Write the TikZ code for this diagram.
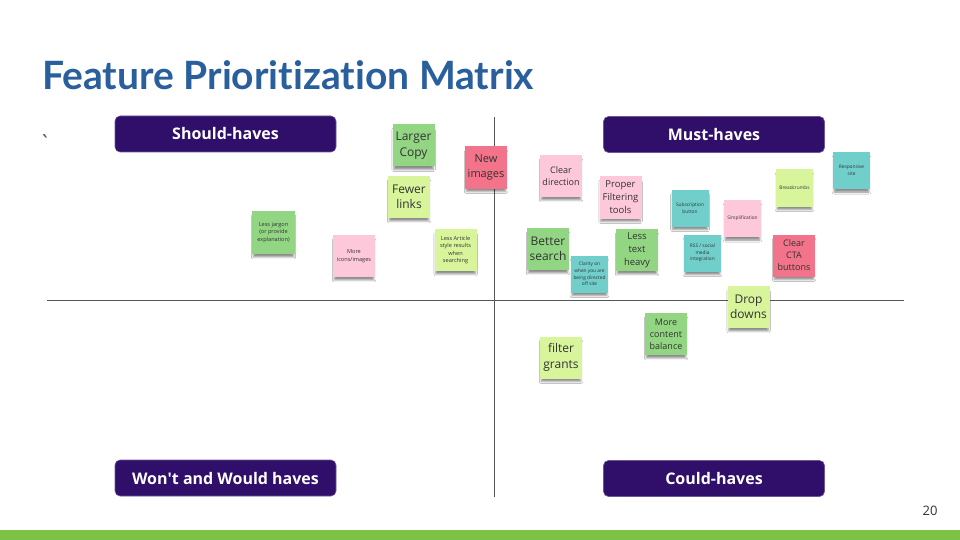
\documentclass[tikz,border=0pt]{standalone}
\usepackage{fontspec}
\setmainfont{Open Sans}
\newfontfamily\titlefont[Ligatures=NoCommon]{Lato}
\usetikzlibrary{shadows.blur}

\definecolor{titleblue}{HTML}{2A5F9D}
\definecolor{hdrpurple}{HTML}{2F0F69}
\definecolor{axisgray}{HTML}{555555}
\definecolor{barGreen}{HTML}{7DC243}
\definecolor{ngreen}{HTML}{92D683}
\definecolor{nlime}{HTML}{D8F59C}
\definecolor{npink}{HTML}{FDC9DA}
\definecolor{nrose}{HTML}{F2738A}
\definecolor{nteal}{HTML}{70CFCB}
\definecolor{notetext}{HTML}{333333}

\begin{document}
\begin{tikzpicture}[x=1pt,y=-1pt,
  header/.style={rounded corners=5pt, fill=hdrpurple, draw=hdrpurple!70!white,
    line width=0.6pt, minimum width=221pt, minimum height=36pt, text=white,
    font=\bfseries\fontsize{16}{18}\selectfont},
  sticky/.style={fill=#1, minimum width=42pt, minimum height=42pt, inner sep=1pt,
    align=center, text=notetext,
    blur shadow={shadow xshift=0pt, shadow yshift=-4.5pt, shadow opacity=45, shadow scale=0.94}},
  tinynote/.style={sticky=#1, minimum width=37pt, minimum height=37pt},
  fbig/.style={font=\fontsize{12}{15.5}\selectfont},
  fmid/.style={font=\fontsize{9}{12}\selectfont},
  fsmall/.style={font=\fontsize{5.6}{7.6}\selectfont},
  ftiny/.style={font=\fontsize{4.8}{6.6}\selectfont},
  axis/.style={draw=axisgray, line width=0.8pt}
]
% canvas
\useasboundingbox (0,0) rectangle (960,540);
\fill[white] (0,0) rectangle (960,540);

% title
\node[anchor=base west, inner sep=0pt, text=titleblue,
  font=\titlefont\bfseries\fontsize{39}{41}\selectfont] (title) at (42,90)
  {Feature Prioritization Matrix};
\node[inner sep=0pt, text=axisgray, font=\fontsize{22}{22}\selectfont] (tick) at (45,143) {\textasciigrave};

% axes
\coordinate (hl) at (47,300);
\coordinate (hr) at (904,300);
\coordinate (vt) at (494,117);
\coordinate (vb) at (494,497);
\draw[axis] (hl) -- (hr);
\draw[axis] (vt) -- (vb);

% quadrant headers
\node[header] (should) at (225.5,134) {Should-haves};
\node[header] (must) at (714,134.5) {Must-haves};
\node[header] (wont) at (225.5,478) {Won\textquotesingle t and Would haves};
\node[header] (could) at (714,478.5) {Could-haves};

% sticky notes, upper left
\node[sticky=ngreen, fbig] (larger) at (413.5,145.5) {Larger\\Copy};
\node[sticky=nrose, font=\fontsize{11}{14.5}\selectfont] (newimg) at (486,167.5) {New\\images};
\node[sticky=nlime, fbig] (fewer) at (409,197) {Fewer\\links};
\node[sticky=ngreen, fsmall, minimum width=43pt, minimum height=43pt] (jargon) at (273.5,232.5) {Less jargon\\(or provide\\explanation)};
\node[sticky=npink, fsmall] (icons) at (354,256) {More\\icons/images};
\node[sticky=nlime, fsmall] (article) at (455.5,250) {Less Article\\style results\\when\\searching};

% sticky notes, upper right
\node[sticky=npink, fmid] (cleardir) at (561,176) {Clear\\direction};
\node[sticky=npink, font=\fontsize{9.5}{13}\selectfont] (filtering) at (620.5,197.5) {Proper\\Filtering\\tools};
\node[sticky=ngreen, fbig] (better) at (548,249) {Better\\search};
\node[tinynote=nteal, ftiny] (clarity) at (589.5,274) {Clarity on\\when you are\\being directed\\off site};
\node[sticky=ngreen, font=\fontsize{9.5}{13}\selectfont] (lesstext) at (637,250) {Less\\text\\heavy};
\node[tinynote=nteal, ftiny] (subscr) at (690,208) {Subscription\\button};
\node[tinynote=npink, ftiny] (simpl) at (742.5,218.5) {Simplification};
\node[tinynote=nteal, ftiny] (rss) at (702.5,253) {RSS / social\\media\\integration};
\node[tinynote=nlime, ftiny] (crumbs) at (794.5,188) {Breadcrumbs};
\node[tinynote=nteal, ftiny] (responsive) at (851.5,170.5) {Responsive\\site};
\node[sticky=nrose, fmid] (cta) at (794,255.5) {Clear\\CTA\\buttons};

% sticky notes, lower right
\node[sticky=nlime, fbig] (drop) at (748.5,307) {Drop\\downs};
\node[sticky=ngreen, fmid] (balance) at (666,334) {More\\content\\balance};
\node[sticky=nlime, fbig] (grants) at (561,357.5) {filter\\grants};

% footer
\fill[barGreen] (0,530) rectangle (960,540);
\node[text=notetext, font=\fontsize{13}{15}\selectfont] (pagenum) at (930,511) {20};
\end{tikzpicture}
\end{document}
